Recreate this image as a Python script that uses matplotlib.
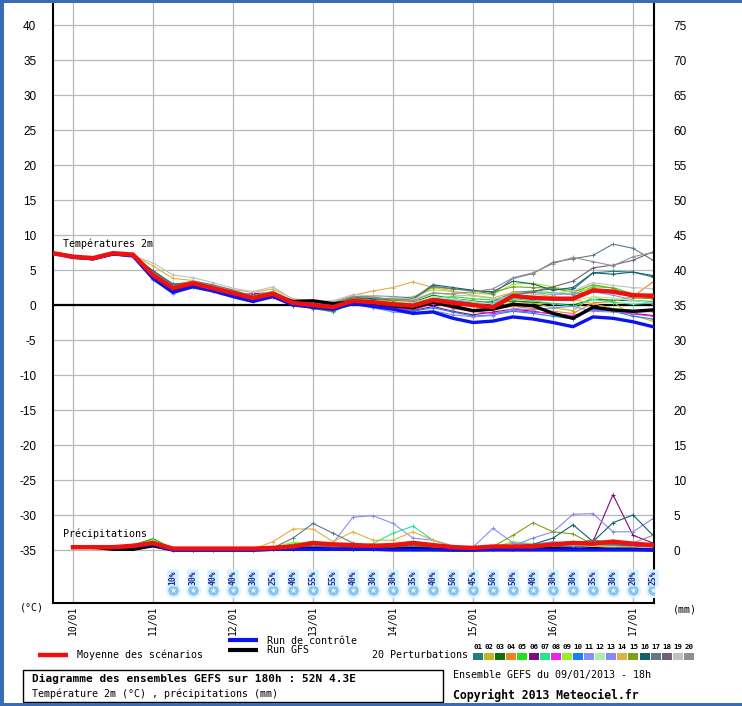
import matplotlib
matplotlib.use('Agg')
import matplotlib.pyplot as plt
from matplotlib.patches import Rectangle
from matplotlib.lines import Line2D

# ---------------- data ----------------
hours = list(range(0, 181, 6))          # 09/01 18h + 0..180h
precip_hours = hours[1:]
date_ticks = [6, 30, 54, 78, 102, 126, 150, 174]
date_labels = ["10/01", "11/01", "12/01", "13/01", "14/01", "15/01", "16/01", "17/01"]
left_ticks = [-35, -30, -25, -20, -15, -10, -5, 0, 5, 10, 15, 20, 25, 30, 35, 40]
right_labels = ["0", "5", "10", "15", "20", "25", "30", "35", "40", "45", "50", "55", "60", "65", "70", "75"]

mean_t = [7.4, 6.9, 6.7, 7.4, 7.2, 4.3, 2.4, 3.1, 2.4, 1.7, 1.0, 1.6, 0.3, 0.0, -0.3, 0.6,
          0.4, 0.1, -0.1, 0.7, 0.3, 0.0, -0.3, 1.3, 1.0, 0.9, 0.9, 2.1, 1.9, 1.4, 1.3]
gfs_t = [7.4, 6.9, 6.6, 7.3, 7.1, 4.0, 2.2, 2.9, 2.2, 1.4, 0.8, 1.4, 0.5, 0.6, 0.2, 0.4,
         0.2, -0.1, -0.4, 0.4, -0.2, -0.8, -0.6, 0.1, -0.1, -1.2, -1.9, -0.3, -0.7, -0.9, -0.7]
ctrl_t = [7.4, 6.8, 6.6, 7.3, 7.0, 3.8, 1.8, 2.6, 2.0, 1.2, 0.5, 1.2, 0.0, -0.3, -0.6, 0.2,
          -0.2, -0.6, -1.2, -1.0, -1.9, -2.5, -2.3, -1.7, -2.0, -2.5, -3.1, -1.7, -1.9, -2.4, -3.1]

pert_t = [
    [7.4,6.9,6.7,7.4,7.1,4.5,2.6,3.2,2.5,1.8,1.1,1.7,0.5,0.2,-0.2,0.8,0.6,0.4,0.2,1.0,0.6,0.3,0.5,1.8,2.0,2.3,2.2,4.6,4.8,4.7,4.0],
    [7.4,6.9,6.7,7.4,7.1,4.0,2.1,2.9,2.3,1.5,0.9,1.4,0.2,-0.2,-0.4,0.5,0.2,0.0,-0.4,0.3,-0.5,-1.0,-0.6,0.5,0.3,-0.4,-0.8,1.2,0.4,-1.5,-2.3],
    [7.4,6.9,6.7,7.4,7.1,4.6,2.8,3.3,2.6,1.8,1.1,1.8,0.4,0.1,-0.1,0.9,0.5,0.2,0.4,1.4,0.9,0.6,0.2,0.6,0.4,0.2,0.0,0.8,0.7,0.6,0.5],
    [7.4,6.9,6.7,7.4,7.1,4.2,2.3,3.0,2.3,1.6,0.9,1.5,0.2,0.1,0.2,1.0,1.2,0.6,0.5,0.8,0.4,-0.2,-0.6,-0.2,-0.5,-0.9,-1.2,0.3,0.5,1.2,3.3],
    [7.4,6.9,6.7,7.4,7.1,4.4,2.5,3.1,2.5,1.7,1.0,1.7,0.1,-0.4,-0.8,0.8,0.7,0.4,0.1,1.0,1.2,0.9,0.7,1.6,1.9,1.8,1.5,2.6,2.5,1.6,1.1],
    [7.4,6.9,6.7,7.4,7.1,4.1,2.2,2.8,2.2,1.5,1.6,1.8,0.3,-0.1,-0.3,0.4,0.0,-0.3,-0.8,-0.2,-0.9,-1.4,-1.0,-0.6,-0.9,-1.3,-1.8,-0.5,-0.8,-1.2,-1.5],
    [7.4,6.9,6.7,7.4,7.1,4.3,2.3,3.0,2.3,1.5,0.9,1.4,0.0,-0.5,-1.0,0.3,0.2,0.0,-0.2,0.6,0.2,0.0,-0.4,0.9,0.6,0.2,-0.2,0.8,0.4,0.1,0.3],
    [7.4,6.9,6.7,7.4,7.1,4.0,2.0,2.7,2.1,1.4,0.7,1.3,0.1,-0.2,-0.5,0.3,0.1,-0.4,-0.7,0.2,-0.4,-0.9,-1.2,-0.8,-1.0,-1.2,-1.5,-0.7,-0.9,-1.3,-1.6],
    [7.4,6.9,6.7,7.4,7.1,4.8,2.9,3.4,2.8,2.0,1.3,2.0,0.6,0.3,0.1,1.1,1.0,0.9,1.2,2.2,1.9,1.7,1.5,3.0,3.1,2.6,2.0,2.3,2.1,1.5,1.6],
    [7.4,6.9,6.7,7.4,7.1,3.7,1.9,2.6,2.0,1.3,0.6,1.2,-0.1,-0.3,-0.7,0.1,-0.2,-0.5,-0.9,-0.4,-1.0,-1.6,-1.4,-0.9,-1.2,-1.6,-2.0,-0.6,-0.9,-1.6,-2.0],
    [7.4,6.9,6.7,7.4,7.1,3.6,1.6,2.8,2.3,1.6,1.0,1.5,0.3,0.0,-0.2,0.5,0.4,0.3,0.0,0.9,0.8,0.4,0.2,1.9,1.8,1.5,1.6,1.9,1.4,0.7,0.2],
    [7.4,6.9,6.7,7.4,7.1,4.5,2.6,3.3,2.6,1.9,1.2,1.7,0.4,0.2,0.0,0.9,0.7,0.5,0.3,1.2,0.9,0.5,0.1,1.5,1.2,0.9,0.6,1.2,1.0,0.6,0.4],
    [7.4,6.9,6.7,7.4,7.1,4.2,2.4,3.1,2.4,1.7,1.1,1.6,0.2,-0.1,-0.4,0.2,-0.4,-1.0,-1.2,-0.8,-1.4,-1.7,-1.5,-0.5,-0.7,-0.4,-0.2,-0.9,-1.0,-1.1,-0.9],
    [7.4,6.9,6.7,7.4,7.1,5.6,3.8,3.5,2.8,2.2,1.8,2.3,0.9,0.6,0.4,1.4,2.0,2.5,3.3,2.5,2.0,1.4,1.0,1.8,1.6,1.2,0.8,0.2,-0.5,-0.8,-1.0],
    [7.4,6.9,6.7,7.4,7.1,4.4,2.5,3.2,2.6,1.7,1.0,1.8,0.4,0.1,-0.1,1.0,0.8,0.6,0.8,2.6,2.3,2.1,1.8,2.6,2.5,2.4,1.8,2.9,2.4,1.0,0.9],
    [7.4,6.9,6.7,7.4,7.1,4.9,3.0,3.2,2.6,1.9,1.2,1.8,0.5,0.3,0.1,1.1,0.9,0.8,0.9,2.9,2.5,2.1,1.9,3.4,3.0,2.1,2.5,4.6,4.4,4.7,4.2],
    [7.4,6.9,6.7,7.4,7.1,4.7,2.8,3.4,2.9,2.1,1.3,1.9,0.6,0.4,0.3,1.2,1.3,1.2,1.0,2.7,2.3,2.0,1.6,3.8,4.5,6.1,6.6,7.1,8.7,8.1,6.4],
    [7.4,6.9,6.7,7.4,7.1,4.0,2.1,2.7,2.1,1.4,0.8,1.3,0.0,-0.5,-0.9,0.5,0.3,-0.1,-0.5,0.9,0.6,0.1,-0.2,1.4,1.9,2.6,3.4,5.3,5.7,6.4,7.6],
    [7.4,6.9,6.7,7.4,7.1,6.0,4.3,3.9,3.2,2.4,1.9,2.6,0.8,0.5,0.6,1.5,1.3,1.1,0.8,1.8,1.4,1.3,0.9,1.2,1.4,1.7,2.0,3.2,2.8,2.5,2.3],
    [7.4,6.9,6.7,7.4,7.1,4.6,2.7,3.3,2.7,1.9,1.2,1.9,0.5,0.2,0.2,1.2,1.1,0.8,0.6,1.7,1.6,1.9,2.3,3.9,4.6,5.9,6.8,6.2,5.6,6.9,7.5],
]

mean_p = [0.4,0.4,0.4,0.6,1.0,0.2,0.2,0.2,0.2,0.2,0.3,0.5,1.0,0.8,0.7,0.6,0.7,1.0,0.7,0.4,
          0.3,0.5,0.5,0.5,0.8,1.0,0.9,1.2,0.9,0.7]
gfs_p = [0.4,0.4,0.1,0.1,0.6,0.0,0.0,0.0,0.0,0.0,0.1,0.2,0.2,0.1,0.1,0.1,0.1,0.2,0.1,0.0,
         0.0,0.1,0.1,0.1,0.2,0.1,0.2,0.1,0.1,0.0]
ctrl_p = [0.4,0.4,0.4,0.5,0.8,0.0,0.0,0.0,0.0,0.0,0.1,0.1,0.1,0.1,0.1,0.1,0.0,0.0,0.0,0.0,
          0.0,0.0,0.0,0.0,0.0,0.0,0.0,0.0,0.0,0.0]
pert_p = [
    [0.4,0.4,0.3,0.5,1.0,0.1,0.0,0.0,0.0,0.0,0.2,0.6,0.9,0.5,0.4,0.3,0.6,0.8,0.5,0.2,0.1,0.3,0.2,0.3,0.6,0.8,0.9,1.0,0.6,0.4],
    [0.4,0.4,0.4,0.6,1.2,0.1,0.1,0.0,0.0,0.1,0.3,0.4,0.7,0.6,0.5,0.4,0.5,0.7,0.4,0.2,0.2,0.4,1.0,0.8,0.5,0.4,0.6,0.5,0.3,0.5],
    [0.4,0.4,0.4,0.7,1.6,0.2,0.1,0.0,0.0,0.0,0.1,0.3,0.5,0.4,0.2,0.3,0.4,0.6,0.3,0.1,0.1,0.2,0.4,0.3,0.5,0.8,0.7,0.8,0.5,0.2],
    [0.4,0.4,0.4,0.5,0.9,0.1,0.0,0.0,0.0,0.1,0.4,0.8,0.6,0.5,0.7,0.5,0.6,0.9,0.6,0.3,0.1,0.2,0.3,0.4,0.6,0.5,0.7,0.4,0.3,0.1],
    [0.4,0.4,0.4,0.6,1.5,0.2,0.1,0.0,0.0,0.0,0.2,0.9,1.2,0.8,0.5,0.4,0.8,1.1,0.6,0.3,0.2,0.3,0.5,0.6,0.9,1.0,1.4,1.2,0.7,0.2],
    [0.4,0.4,0.3,0.4,0.8,0.0,0.0,0.0,0.0,0.0,0.1,0.2,0.4,0.3,0.2,0.2,0.3,0.4,0.2,0.1,0.1,0.2,0.2,0.4,0.5,0.3,1.2,7.9,2.1,1.0],
    [0.4,0.4,0.4,0.6,1.3,0.2,0.0,0.0,0.0,0.1,0.3,0.6,0.9,0.7,0.6,0.9,2.4,3.4,1.4,0.5,0.2,0.3,0.4,0.5,0.7,0.6,0.8,0.6,0.4,0.3],
    [0.4,0.4,0.4,0.5,0.9,0.1,0.0,0.0,0.0,0.0,0.2,0.4,0.6,0.5,0.6,0.5,0.5,0.7,0.5,0.2,0.1,0.1,0.3,0.4,0.6,0.7,0.9,1.1,0.8,0.5],
    [0.4,0.4,0.4,0.7,1.4,0.2,0.1,0.0,0.0,0.1,0.4,1.1,1.0,0.7,0.5,0.4,0.6,0.9,0.6,0.3,0.2,0.4,1.2,0.9,0.6,0.7,0.6,0.5,0.4,0.2],
    [0.4,0.4,0.4,0.5,0.8,0.1,0.0,0.0,0.0,0.0,0.1,0.3,0.5,0.4,0.3,0.2,0.4,0.6,0.4,0.2,0.1,0.2,0.3,0.3,0.4,0.5,0.6,0.5,0.3,0.2],
    [0.4,0.4,0.4,0.6,1.0,0.1,0.0,0.0,0.0,0.0,0.2,0.5,0.8,1.0,4.7,4.9,3.8,1.7,1.4,0.6,0.4,3.1,1.0,0.8,1.2,0.9,0.8,0.7,0.5,0.3],
    [0.4,0.4,0.4,0.6,1.1,0.2,0.1,0.0,0.0,0.0,0.3,0.7,0.9,0.6,0.5,0.4,0.9,1.3,0.8,0.4,0.2,0.3,0.4,0.5,0.7,0.8,0.7,0.6,0.4,0.2],
    [0.4,0.4,0.4,0.6,1.0,0.1,0.0,0.0,0.0,0.0,0.2,0.5,0.7,0.6,0.5,0.4,0.6,0.8,0.5,0.3,0.2,0.4,0.6,1.7,2.6,5.1,5.2,2.6,2.6,4.5],
    [0.4,0.4,0.4,0.6,1.1,0.2,0.1,0.0,0.0,0.1,1.2,3.0,3.0,1.2,2.6,1.4,1.4,2.6,1.4,0.5,0.3,0.4,0.5,0.6,0.8,0.7,0.6,0.5,0.4,0.3],
    [0.4,0.4,0.4,0.6,1.2,0.1,0.0,0.0,0.0,0.0,0.2,0.5,0.8,0.7,0.5,0.4,0.6,0.9,0.6,0.4,0.3,0.5,2.1,3.9,2.6,2.3,0.8,0.6,0.4,0.3],
    [0.4,0.4,0.4,0.6,1.0,0.1,0.0,0.0,0.0,0.0,0.2,0.4,0.7,0.6,0.5,0.4,0.5,0.7,0.5,0.3,0.2,0.4,0.6,0.8,1.7,3.6,1.2,3.9,5.0,2.1],
    [0.4,0.4,0.4,0.6,1.0,0.1,0.0,0.0,0.0,0.0,0.3,1.7,3.8,2.4,1.0,0.6,0.7,0.9,0.6,0.3,0.2,0.4,0.5,0.7,0.9,1.1,0.9,0.8,0.6,0.4],
    [0.4,0.4,0.4,0.5,0.9,0.1,0.0,0.0,0.0,0.0,0.2,0.4,0.6,0.5,0.4,0.3,0.5,0.7,0.4,0.2,0.1,0.3,0.4,0.5,0.7,0.9,1.4,0.8,0.5,0.3],
    [0.4,0.4,0.4,0.6,1.1,0.2,0.1,0.0,0.0,0.0,0.2,0.5,0.8,0.6,0.5,0.5,0.7,0.9,0.5,0.3,0.2,0.3,0.5,0.6,0.8,0.7,0.6,0.5,0.4,0.3],
    [0.4,0.4,0.4,0.6,1.0,0.1,0.0,0.0,0.0,0.0,0.2,0.5,0.7,0.6,0.5,0.4,0.6,0.8,0.5,0.3,0.2,0.4,0.5,0.7,1.0,1.2,1.0,1.3,1.0,2.1],
]
pert_names = ["01","02","03","04","05","06","07","08","09","10",
              "11","12","13","14","15","16","17","18","19","20"]
pert_colors = ["#1f8080","#c0b820","#107010","#f08020","#20e020","#800a80","#20e890","#f020f0",
               "#98f020","#1a80f0","#8890f0","#a8f0a8","#8888f0","#e0b040","#80a018","#106070",
               "#607888","#706070","#c0c0c0","#909090"]

snow_hours = list(range(36, 181, 6))
snow_pct = [10,30,40,40,30,25,40,55,55,40,30,30,35,40,50,45,50,50,40,30,30,35,30,20,25]

# ---------------- layout helpers ----------------
W, H = 742, 706
fig = plt.figure(figsize=(W/100, H/100), dpi=100)
fig.patch.set_facecolor("white")
def fx(px): return px / W
def fy(py): return 1 - py / H

MONO = "DejaVu Sans Mono"
SANS = "Liberation Sans"
PRECIP_BASE = -35

ax = fig.add_axes([fx(53), fy(603), fx(654) - fx(53), fy(3) - fy(603)])
ax.set_xlim(0, 180 * 601 / 600)
ax.set_ylim((305 - 603) / 7, (305 - 3) / 7)

for v in left_ticks:
    ax.axhline(v, color="#b8b8b8", lw=0.9, zorder=0)
for d in date_ticks:
    ax.axvline(d, color="#b8b8b8", lw=0.9, zorder=0)
ax.axhline(0, color="black", lw=1.6, zorder=1)

# perturbations
for i in range(20):
    ax.plot(hours, pert_t[i], color=pert_colors[i], lw=0.8, marker="+", ms=3, mew=0.7, zorder=2)
    ax.plot(precip_hours, [PRECIP_BASE + p for p in pert_p[i]], color=pert_colors[i], lw=0.8,
            marker="+", ms=3, mew=0.7, zorder=2)

ax.plot(hours, gfs_t, color="black", lw=2.4, zorder=3)
ax.plot(precip_hours, [PRECIP_BASE + p for p in gfs_p], color="black", lw=2.4, zorder=3)
ax.plot(hours, ctrl_t, color="#0a14f0", lw=2.4, zorder=4)
ax.plot(precip_hours, [PRECIP_BASE + p for p in ctrl_p], color="#0a14f0", lw=2.4, zorder=4)
ax.plot(hours, mean_t, color="#f01010", lw=3.2, zorder=5)
ax.plot(precip_hours, [PRECIP_BASE + p for p in mean_p], color="#f01010", lw=3.2, zorder=5)

# snowflakes and percentages
snow_y = (305 - 590) / 7
pct_y = (305 - 578) / 7
ax.scatter(snow_hours, [snow_y] * len(snow_hours), s=120, color="#dff3fd", zorder=6, linewidths=0)
ax.scatter(snow_hours, [snow_y] * len(snow_hours), s=55, color="#86c3ec", zorder=7, linewidths=0)
ax.scatter(snow_hours, [snow_y] * len(snow_hours), s=22, marker="*", color="#e8f6ff", zorder=8, linewidths=0)
for h, p in zip(snow_hours, snow_pct):
    ax.text(h, pct_y, f"{p}%", rotation=90, ha="center", va="center", fontsize=5.8,
            family=MONO, fontweight="bold", color="#1a2a9c", zorder=9,
            bbox=dict(boxstyle="round,pad=0.15", fc="#d4f1fd", ec="none"))

ax.text(3, (305 - 244) / 7, "Températures 2m", family=MONO, fontsize=7.2, va="center", ha="left", zorder=9)
ax.text(3, (305 - 534) / 7, "Précipitations", family=MONO, fontsize=7.2, va="center", ha="left", zorder=9)

# axes styling
for s in ["left", "right", "bottom"]:
    ax.spines[s].set_color("black")
    ax.spines[s].set_linewidth(1.5)
ax.spines["top"].set_visible(False)
ax.set_yticks(left_ticks)
ax.set_yticklabels([str(v) for v in left_ticks], family=SANS, fontsize=8.5)
ax.tick_params(axis="y", length=0, pad=12)
ax.set_xticks(date_ticks)
ax.set_xticklabels(date_labels, rotation=90, family=MONO, fontsize=7.0)
ax.tick_params(axis="x", length=0, pad=2)

ax2 = ax.twinx()
ax2.set_ylim(ax.get_ylim())
ax2.set_yticks(left_ticks)
ax2.set_yticklabels(right_labels, family=SANS, fontsize=8.5)
ax2.tick_params(axis="y", length=0, pad=14)
for s in ax2.spines.values():
    s.set_visible(False)

# units
fig.text(fx(20), fy(607), "(°C)", family=MONO, fontsize=7.2, va="center", ha="left")
fig.text(fx(673), fy(610), "(mm)", family=MONO, fontsize=7.2, va="center", ha="left")

# legend lines
def fig_line(x0, x1, y, color, lw):
    fig.add_artist(Line2D([fx(x0), fx(x1)], [fy(y), fy(y)], color=color, lw=lw,
                          transform=fig.transFigure, solid_capstyle="butt"))
fig_line(38, 68, 655, "#f01010", 3.2)
fig.text(fx(77), fy(655), "Moyenne des scénarios", family=MONO, fontsize=7.2, va="center")
fig_line(228, 258, 640, "#0a14f0", 3.0)
fig.text(fx(267), fy(641), "Run de contrôle", family=MONO, fontsize=7.2, va="center")
fig_line(228, 258, 650, "black", 3.0)
fig.text(fx(267), fy(650), "Run GFS", family=MONO, fontsize=7.2, va="center")

fig.text(fx(372), fy(655), "20 Perturbations", family=MONO, fontsize=7.2, va="center")
for i in range(20):
    x0 = 473 + i * 11.1
    fig.add_artist(Rectangle((fx(x0), fy(660)), fx(10), (7 / H), color=pert_colors[i],
                             transform=fig.transFigure, lw=0))
    fig.text(fx(x0 + 5), fy(647), pert_names[i], family=MONO, fontsize=5.4, fontweight="bold",
             ha="center", va="center")

# info box
fig.add_artist(Rectangle((fx(23), fy(702)), fx(443) - fx(23), (702 - 670) / H, fill=False,
                         ec="black", lw=1.0, transform=fig.transFigure))
fig.text(fx(32), fy(679), "Diagramme des ensembles GEFS sur 180h : 52N 4.3E", family=MONO,
         fontsize=8.0, fontweight="bold", va="center")
fig.text(fx(32), fy(694), "Température 2m (°C) , précipitations (mm)", family=MONO,
         fontsize=7.2, va="center")
fig.text(fx(453), fy(675), "Ensemble GEFS du 09/01/2013 - 18h", family=MONO, fontsize=7.2, va="center")
fig.text(fx(453), fy(695), "Copyright 2013 Meteociel.fr", family=MONO, fontsize=8.3,
         fontweight="bold", va="center")

# blue frame
BLUE = "#3a6cb4"
fig.add_artist(Rectangle((0, fy(3)), 1, 3 / H, color=BLUE, lw=0, transform=fig.transFigure))
fig.add_artist(Rectangle((0, 0), 4 / W, 1, color=BLUE, lw=0, transform=fig.transFigure))
fig.add_artist(Rectangle((0, 0), 1, 3.5 / H, color=BLUE, lw=0, transform=fig.transFigure))

fig.savefig("out.png", dpi=100)
